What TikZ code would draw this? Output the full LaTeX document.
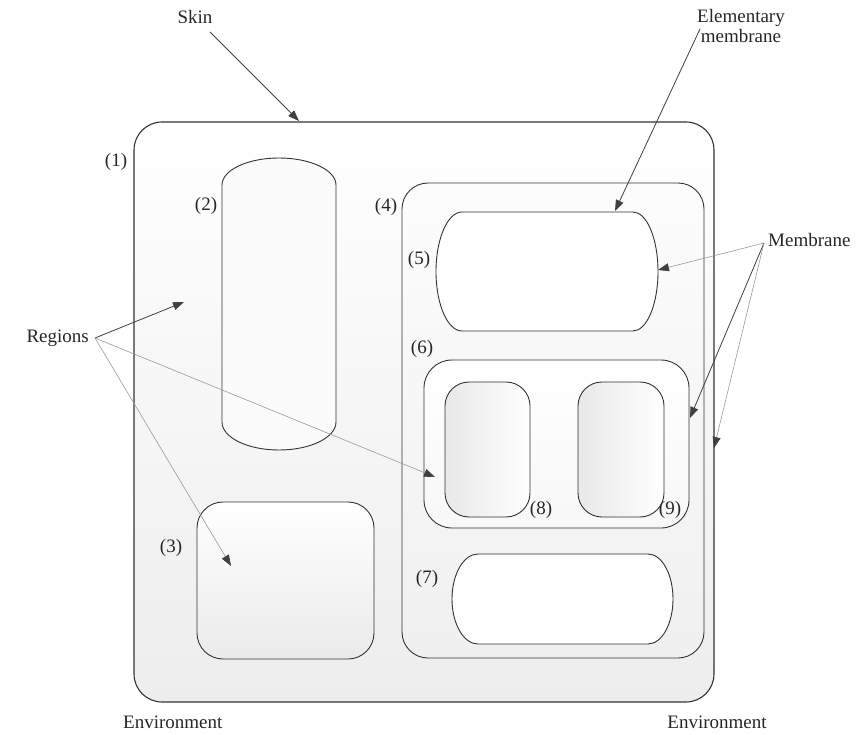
\documentclass[tikz,border=0pt]{standalone}
\usepackage{fontspec}
\setmainfont{Liberation Serif}
\usetikzlibrary{arrows.meta}
\begin{document}
\begin{tikzpicture}[x=1pt,y=-1pt,
  lbl/.style={font=\fontsize{19}{20}\selectfont, inner sep=0pt, text=black!85},
  memb/.style={draw=black!80, line width=0.9pt},
  darrow/.style={draw=black!75, line width=0.8pt, -{Triangle[length=11pt,width=8pt,color=black!75]}},
  garrow/.style={draw=black!40, line width=0.6pt, -{Triangle[length=11pt,width=8pt,color=black!75]}},
]
\useasboundingbox (0,0) rectangle (865,735);

% skin (1)
\path[memb, line width=1.1pt, top color=white, bottom color=black!7, rounded corners=28pt] (134,122) rectangle (714,702);
% (2)
\path[memb, fill=black!1.5] (222,185) arc[start angle=180, end angle=360, x radius=57, y radius=27]
  -- (336,422) arc[start angle=0, end angle=180, x radius=57, y radius=28] -- cycle;
% (3)
\path[memb, top color=white, bottom color=black!8, rounded corners=26pt] (197,502) rectangle (374,659);
% (4)
\path[memb, top color=black!1, bottom color=black!6, rounded corners=26pt] (402,183) rectangle (704,658);
% (5)
\path[memb, fill=white] (462,212) -- (633,212) arc[start angle=-90, end angle=90, x radius=25, y radius=59.5]
  -- (462,331) arc[start angle=90, end angle=270, x radius=26, y radius=59.5] -- cycle;
% (6)
\path[memb, top color=white, bottom color=black!3, rounded corners=28pt] (424,360) rectangle (689,528);
% (8)
\path[memb, left color=black!9, middle color=white, right color=white, rounded corners=24pt] (445,382) rectangle (530,517);
% (9)
\path[memb, left color=black!9, middle color=white, right color=white, rounded corners=24pt] (578,382) rectangle (664,517);
% (7)
\path[memb, fill=white] (478,554) -- (648,554) arc[start angle=-90, end angle=90, x radius=25, y radius=45]
  -- (478,644) arc[start angle=90, end angle=270, x radius=26, y radius=45] -- cycle;

% number labels
\node[lbl] (l1) at (116,162) {(1)};
\node[lbl] (l2) at (206,206) {(2)};
\node[lbl] (l3) at (171,548) {(3)};
\node[lbl] (l4) at (386,207) {(4)};
\node[lbl] (l5) at (419,260) {(5)};
\node[lbl] (l6) at (422,349) {(6)};
\node[lbl] (l7) at (427,579) {(7)};
\node[lbl] (l8) at (541,510) {(8)};
\node[lbl] (l9) at (670,510) {(9)};

% annotation labels
\node[lbl, anchor=base] (skin) at (195,24) {Skin};
\node[lbl, align=center] (elem) at (741,26) {Elementary\\membrane};
\node[lbl, anchor=base west] (membrane) at (768,247) {Membrane};
\node[lbl, anchor=east] (regions) at (89,338) {Regions};
\node[lbl, anchor=base west] (envl) at (123,728) {Environment};
\node[lbl, anchor=base] (envr) at (717,728) {Environment};

% arrow endpoints
\coordinate (skinS) at (210,32);
\coordinate (skinE) at (299,121);
\coordinate (elemS) at (700,29);
\coordinate (elemE) at (615,211);
\coordinate (memS) at (764,243);
\coordinate (memA) at (658,270);
\coordinate (memB) at (690,418);
\coordinate (memC) at (714,448);
\coordinate (regS) at (95,338);
\coordinate (regA) at (184,302);
\coordinate (regB) at (435,477);
\coordinate (regC) at (231,566);

\draw[darrow] (skinS) -- (skinE);
\draw[darrow] (elemS) -- (elemE);
\draw[garrow] (memS) -- (memA);
\draw[darrow] (memS) -- (memB);
\draw[garrow] (memS) -- (memC);
\draw[darrow] (regS) -- (regA);
\draw[garrow] (regS) -- (regB);
\draw[garrow] (regS) -- (regC);
\end{tikzpicture}
\end{document}
